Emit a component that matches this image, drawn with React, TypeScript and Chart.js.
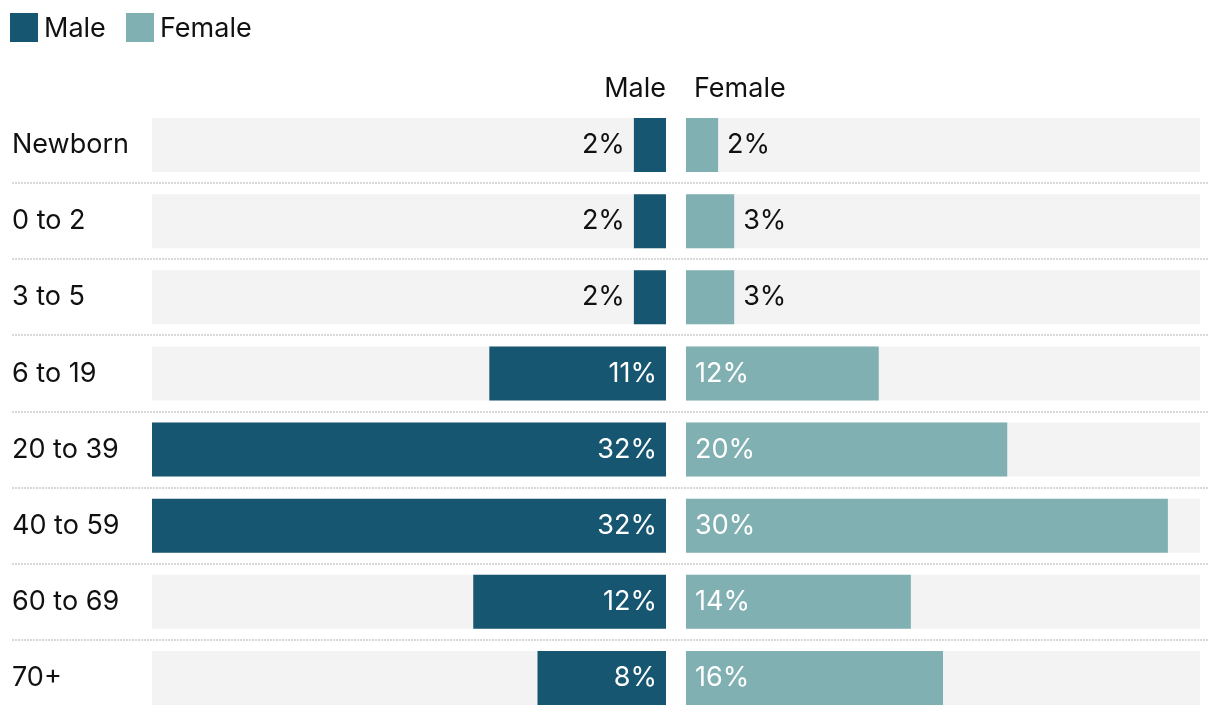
import React, { useEffect, useRef } from "react";
import { Chart, registerables } from "chart.js";

Chart.register(...registerables);

const categories = ["Newborn", "0 to 2", "3 to 5", "6 to 19", "20 to 39", "40 to 59", "60 to 69", "70+"];
const maleValues = [2, 2, 2, 11, 32, 32, 12, 8];
const femaleValues = [2, 3, 3, 12, 20, 30, 14, 16];
const seriesNames = ["Male", "Female"];
const maxValue = 32;

const MALE_COLOR = "#175670";
const FEMALE_COLOR = "#81b0b2";
const BG_COLOR = "#f3f3f3";
const TEXT_COLOR = "#111111";
const FONT = "Inter, 'Noto Sans', sans-serif";
const FONT_SIZE = 27;
// half of the gap between the two panels, in percentage units
const HALF_GAP = 0.6225;
const INSIDE_THRESHOLD = 5;

const labelPlugin = {
  id: "pyramidLabels",
  afterDatasetsDraw(chart: any) {
    const ctx = chart.ctx;
    const xs = chart.scales.x;
    const ys = chart.scales.y;
    ctx.save();
    ctx.font = `400 ${FONT_SIZE}px ${FONT}`;
    ctx.textBaseline = "middle";
    categories.forEach((_, i) => {
      const y = ys.getPixelForValue(i);
      const mv = maleValues[i];
      const mEnd = xs.getPixelForValue(-HALF_GAP);
      const mStart = xs.getPixelForValue(-HALF_GAP - mv);
      ctx.textAlign = "right";
      if (mv >= INSIDE_THRESHOLD) {
        ctx.fillStyle = "#ffffff";
        ctx.fillText(`${mv}%`, mEnd - 9, y);
      } else {
        ctx.fillStyle = TEXT_COLOR;
        ctx.fillText(`${mv}%`, mStart - 9, y);
      }
      const fv = femaleValues[i];
      const fStart = xs.getPixelForValue(HALF_GAP);
      const fEnd = xs.getPixelForValue(HALF_GAP + fv);
      ctx.textAlign = "left";
      if (fv >= INSIDE_THRESHOLD) {
        ctx.fillStyle = "#ffffff";
        ctx.fillText(`${fv}%`, fStart + 9, y);
      } else {
        ctx.fillStyle = TEXT_COLOR;
        ctx.fillText(`${fv}%`, fEnd + 9, y);
      }
    });
    // panel headers
    ctx.fillStyle = TEXT_COLOR;
    ctx.textAlign = "right";
    ctx.fillText(seriesNames[0], xs.getPixelForValue(-HALF_GAP), 89);
    ctx.textAlign = "left";
    ctx.fillText(seriesNames[1], xs.getPixelForValue(HALF_GAP) + 8, 89);
    ctx.restore();
  },
  afterDraw(chart: any) {
    const ctx = chart.ctx;
    const ys = chart.scales.y;
    ctx.save();
    ctx.strokeStyle = "#d9d9d9";
    ctx.lineWidth = 2;
    ctx.setLineDash([2, 1]);
    for (let i = 0; i < categories.length - 1; i++) {
      const y = Math.round((ys.getPixelForValue(i) + ys.getPixelForValue(i + 1)) / 2);
      ctx.beginPath();
      ctx.moveTo(12, y);
      ctx.lineTo(1208, y);
      ctx.stroke();
    }
    ctx.restore();
  },
};

export default function App() {
  const canvasRef = useRef<HTMLCanvasElement | null>(null);

  useEffect(() => {
    document.body.style.margin = "0";
    const canvas = canvasRef.current;
    if (!canvas) return;
    const barOpts = { grouped: false, barPercentage: 54 / 76, categoryPercentage: 1 };
    const chart = new Chart(canvas, {
      type: "bar",
      data: {
        labels: categories,
        datasets: [
          {
            label: seriesNames[0],
            data: maleValues.map((v) => [-HALF_GAP - v, -HALF_GAP]) as any,
            backgroundColor: MALE_COLOR,
            ...barOpts,
          } as any,
          {
            label: seriesNames[1],
            data: femaleValues.map((v) => [HALF_GAP, HALF_GAP + v]) as any,
            backgroundColor: FEMALE_COLOR,
            ...barOpts,
          } as any,
          {
            label: "male-bg",
            data: categories.map(() => [-HALF_GAP - maxValue, -HALF_GAP]) as any,
            backgroundColor: BG_COLOR,
            ...barOpts,
          } as any,
          {
            label: "female-bg",
            data: categories.map(() => [HALF_GAP, HALF_GAP + maxValue]) as any,
            backgroundColor: BG_COLOR,
            ...barOpts,
          } as any,
        ],
      },
      options: {
        indexAxis: "y",
        animation: false,
        responsive: false,
        maintainAspectRatio: false,
        layout: { padding: { top: 107, left: 12, right: 20, bottom: 0 } },
        plugins: {
          legend: { display: false },
          tooltip: { enabled: false },
        },
        scales: {
          x: {
            type: "linear",
            display: false,
            min: -HALF_GAP - maxValue,
            max: HALF_GAP + maxValue,
          },
          y: {
            type: "category",
            grid: { display: false },
            border: { display: false },
            ticks: {
              crossAlign: "far",
              color: TEXT_COLOR,
              font: { family: FONT, size: FONT_SIZE, weight: "400" as any },
            },
            afterFit: (scale: any) => {
              scale.width = 140;
              scale.paddingTop = 0;
              scale.paddingBottom = 0;
            },
          },
        },
      },
      plugins: [labelPlugin],
    });
    return () => chart.destroy();
  }, []);

  const legendItem = (color: string, text: string, left: number) => (
    <div style={{ position: "absolute", left, top: 13, display: "flex", alignItems: "center" }}>
      <div style={{ width: 28, height: 29, background: color, marginRight: 6 }} />
      <span style={{ fontFamily: FONT, fontSize: FONT_SIZE, color: TEXT_COLOR, lineHeight: "29px" }}>{text}</span>
    </div>
  );

  return (
    <div style={{ position: "relative", width: 1220, height: 716, background: "#ffffff" }}>
      <canvas ref={canvasRef} width={1220} height={716} style={{ position: "absolute", left: 0, top: 0 }} />
      {legendItem(MALE_COLOR, seriesNames[0], 10)}
      {legendItem(FEMALE_COLOR, seriesNames[1], 126)}
    </div>
  );
}
